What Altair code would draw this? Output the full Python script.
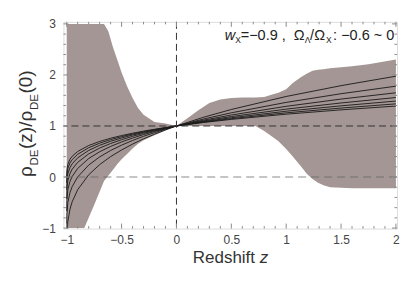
import altair as alt
import pandas as pd

# ---------------- data ----------------
z_line = [-1.0, -0.999, -0.99, -0.97, -0.95, -0.9, -0.8, -0.7, -0.6, -0.5,
          -0.4, -0.3, -0.2, -0.1, 0.0, 0.25, 0.5, 1.0, 1.5, 2.0]
line_r0 = [0.0, 0.126, 0.251, 0.349, 0.407, 0.501, 0.617, 0.697, 0.760, 0.812,
           0.858, 0.899, 0.935, 0.969, 1.0, 1.069, 1.129, 1.231, 1.316, 1.390]
line_r1 = [-0.111, 0.029, 0.168, 0.277, 0.341, 0.446, 0.574, 0.663, 0.733, 0.791,
           0.842, 0.888, 0.928, 0.966, 1.0, 1.077, 1.143, 1.257, 1.351, 1.433]
line_r2 = [-0.25, -0.093, 0.064, 0.186, 0.259, 0.376, 0.521, 0.621, 0.700, 0.765,
           0.823, 0.874, 0.919, 0.961, 1.0, 1.086, 1.161, 1.289, 1.395, 1.488]
line_r3 = [-0.429, -0.249, -0.070, 0.070, 0.153, 0.287, 0.453, 0.567, 0.657, 0.731,
           0.797, 0.856, 0.907, 0.956, 1.0, 1.099, 1.184, 1.330, 1.451, 1.557]
line_r4 = [-0.667, -0.457, -0.248, -0.085, 0.012, 0.168, 0.362, 0.495, 0.600, 0.687,
           0.763, 0.832, 0.892, 0.948, 1.0, 1.115, 1.215, 1.385, 1.527, 1.650]
line_r5 = [-1.0, -0.748, -0.498, -0.302, -0.186, 0.002, 0.234, 0.394, 0.520, 0.624,
           0.716, 0.798, 0.870, 0.938, 1.0, 1.138, 1.258, 1.462, 1.632, 1.780]
line_r6 = [-1.5, -1.185, -0.873, -0.628, -0.483, -0.248, 0.043, 0.243, 0.400, 0.530,
           0.645, 0.748, 0.838, 0.923, 1.0, 1.173, 1.323, 1.578, 1.790, 1.975]
line_names = ["0", "-0.1", "-0.2", "-0.3", "-0.4", "-0.5", "-0.6"]

z_band = [-1.0, -0.84, -0.75, -0.66, -0.62, -0.58, -0.54, -0.5, -0.45, -0.4,
          -0.35, -0.3, -0.2, -0.1, 0.0, 0.1, 0.2, 0.3, 0.4, 0.5,
          0.6, 0.72, 0.8, 0.88, 0.93, 1.0, 1.06, 1.13, 1.19, 1.24,
          1.29, 1.34, 1.4, 1.5, 1.6, 1.75, 2.0]
band_upper = [3.0, 3.0, 3.0, 3.0, 2.85, 2.55, 2.3, 2.05, 1.78, 1.55,
              1.35, 1.22, 1.08, 1.05, 1.0, 1.15, 1.31, 1.45, 1.52, 1.55,
              1.56, 1.56, 1.57, 1.62, 1.65, 1.72, 1.84, 1.95, 2.03, 2.08,
              2.1, 2.11, 2.13, 2.15, 2.17, 2.21, 2.3]
band_lower = [-1.0, -1.0, -0.55, -0.08, 0.03, 0.14, 0.25, 0.35, 0.45, 0.56,
              0.65, 0.72, 0.82, 0.91, 1.0, 1.0, 1.0, 1.0, 1.0, 1.0,
              1.0, 1.0, 0.9, 0.78, 0.7, 0.55, 0.4, 0.22, 0.06, -0.04,
              -0.11, -0.16, -0.2, -0.21, -0.22, -0.22, -0.22]

x_major = [-1, -0.5, 0, 0.5, 1, 1.5, 2]
x_minor = [-0.9, -0.8, -0.7, -0.6, -0.4, -0.3, -0.2, -0.1, 0.1, 0.2, 0.3, 0.4,
           0.6, 0.7, 0.8, 0.9, 1.1, 1.2, 1.3, 1.4, 1.6, 1.7, 1.8, 1.9]
y_major = [-1, 0, 1, 2, 3]
y_minor = [-0.8, -0.6, -0.4, -0.2, 0.2, 0.4, 0.6, 0.8, 1.2, 1.4, 1.6, 1.8,
           2.2, 2.4, 2.6, 2.8]
ref_dark_y = [1]
ref_dark_x = [0]
ref_light_y = [0]

# ---------------- layout ----------------
W, H = 334, 207
FRAME = "#8c8c8c"
FONT = "Liberation Sans"
xs = alt.Scale(domain=[-1.03, 2.01], nice=False, zero=False)
ys = alt.Scale(domain=[-1.01, 3.04], nice=False, zero=False)

xaxis = alt.Axis(values=x_major, format="~g", ticks=False, domain=False,
                 grid=False, labelPadding=6, labelFontSize=12, labelColor="#444",
                 labelFont=FONT, title=None)
yaxis = alt.Axis(values=y_major, format="~g", ticks=False, domain=False,
                 grid=False, labelPadding=8, labelFontSize=12, labelColor="#444",
                 labelFont=FONT, title=None)


def X(field):
    return alt.X(field, scale=xs, axis=xaxis)


def Y(field):
    return alt.Y(field, scale=ys, axis=yaxis)


band_df = pd.DataFrame({"z": z_band, "hi": band_upper, "lo": band_lower})
band = alt.Chart(band_df).mark_area(color="#a39694", clip=True).encode(
    x=X("z:Q"), y=Y("hi:Q"), y2="lo:Q",
)

rows = []
for name, vals in zip(line_names, [line_r0, line_r1, line_r2, line_r3, line_r4, line_r5, line_r6]):
    for z, v in zip(z_line, vals):
        rows.append({"z": z, "v": v, "r": name})
lines_df = pd.DataFrame(rows)
lines = alt.Chart(lines_df).mark_line(color="#1a1a1a", strokeWidth=0.9, clip=True).encode(
    x=X("z:Q"), y=Y("v:Q"), detail="r:N",
)

h1 = alt.Chart(pd.DataFrame({"v": ref_dark_y})).mark_rule(
    color="#333", strokeWidth=1, strokeDash=[7, 4]).encode(y=Y("v:Q"))
v0 = alt.Chart(pd.DataFrame({"z": ref_dark_x})).mark_rule(
    color="#333", strokeWidth=1, strokeDash=[7, 4]).encode(x=X("z:Q"))
h0 = alt.Chart(pd.DataFrame({"v": ref_light_y})).mark_rule(
    color="#666", opacity=0.5, strokeWidth=1.5, strokeDash=[8, 5]).encode(y=Y("v:Q"))


def xticks(vals, length):
    d = pd.DataFrame({"z": vals})
    b = alt.Chart(d).mark_rule(color=FRAME, strokeWidth=1).encode(
        x=X("z:Q"), y=alt.value(H), y2=alt.value(H - length))
    t = alt.Chart(d).mark_rule(color=FRAME, strokeWidth=1).encode(
        x=X("z:Q"), y=alt.value(0), y2=alt.value(length))
    return [b, t]


def yticks(vals, length):
    d = pd.DataFrame({"v": vals})
    l = alt.Chart(d).mark_rule(color=FRAME, strokeWidth=1).encode(
        y=Y("v:Q"), x=alt.value(0), x2=alt.value(length))
    r = alt.Chart(d).mark_rule(color=FRAME, strokeWidth=1).encode(
        y=Y("v:Q"), x=alt.value(W), x2=alt.value(W - length))
    return [l, r]


ticks = xticks(x_major, 5) + xticks(x_minor, 2.5) + yticks(y_major, 5) + yticks(y_minor, 2.5)

OX, OY = 63.5, 21.7
one = pd.DataFrame({"a": [0]})


def txt(s, px, py, size, italic=False, angle=0, color="#222"):
    kw = dict(text=s, font=FONT, fontSize=size, align="left", baseline="alphabetic",
              color=color)
    if italic:
        kw["fontStyle"] = "italic"
    if angle:
        kw["angle"] = angle
    return alt.Chart(one).mark_text(**kw).encode(
        x=alt.value(px - OX), y=alt.value(py - OY))


texts = [
    # x title
    txt("Redshift", 193, 263, 17, color="#333"),
    txt("z", 260, 263, 17, italic=True, color="#333"),
    # y title (rotated)
    txt("\u03c1", 32, 177, 19, angle=270, color="#333"),
    txt("DE", 38, 165.5, 11.5, angle=270, color="#333"),
    txt("(z)/\u03c1", 32, 149, 19, angle=270, color="#333"),
    txt("DE", 38, 110, 11.5, angle=270, color="#333"),
    txt("(0)", 32, 93.5, 19, angle=270, color="#333"),
    # annotation
    txt("w", 225, 40, 14.5, italic=True),
    txt("X", 235.5, 43, 8.5),
    txt("=\u22120.9 ,", 241, 40, 14.5),
    txt("\u03a9", 294, 40, 14.5),
    txt("\u039b", 305, 43, 8.5),
    txt("/\u03a9", 310.5, 40, 14.5),
    txt("X", 326.5, 43, 8.5),
    txt(": \u22120.6 ~ 0", 333.5, 40, 14.5),
]

chart = alt.layer(band, lines, h0, h1, v0, *ticks, *texts).properties(
    width=W, height=H,
    autosize=alt.AutoSizeParams(type="none"),
    padding={"left": 55.5, "top": 13.7, "right": 10, "bottom": 42},
).configure_view(stroke=FRAME, strokeWidth=1).configure(background="white")

chart.save("out.html", embed_options={"renderer": "svg", "actions": False})
